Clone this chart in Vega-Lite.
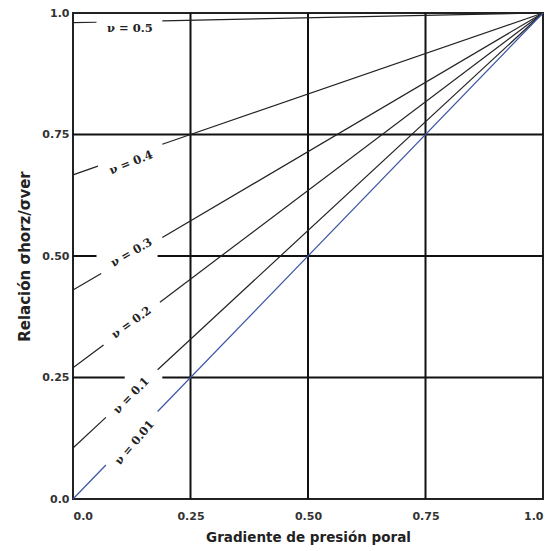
{
  "$schema": "https://vega.github.io/schema/vega-lite/v6.json",
  "width": 470,
  "height": 486,
  "autosize": {"type": "none"},
  "padding": {"left": 73, "top": 13, "right": 13, "bottom": 52},
  "background": "white",
  "config": {
    "view": {"stroke": "#222", "strokeWidth": 2},
    "axis": {
      "labelFont": "DejaVu Sans",
      "labelFontWeight": "bold",
      "labelFontSize": 11,
      "labelColor": "#333",
      "titleFont": "DejaVu Sans",
      "titleFontWeight": "bold",
      "titleFontSize": 13.5,
      "titleColor": "#222",
      "ticks": false,
      "domain": false,
      "grid": false
    },
    "text": {"font": "DejaVu Serif", "fontWeight": "bold", "fontSize": 11.5, "color": "#222"}
  },
  "datasets": {
    "grid": [
      {"x": 0.25, "x2": 0.25, "y": 0, "y2": 1},
      {"x": 0.5, "x2": 0.5, "y": 0, "y2": 1},
      {"x": 0.75, "x2": 0.75, "y": 0, "y2": 1},
      {"x": 0, "x2": 1, "y": 0.75, "y2": 0.75},
      {"x": 0, "x2": 0.05, "y": 0.5, "y2": 0.5},
      {"x": 0.18, "x2": 1, "y": 0.5, "y2": 0.5},
      {"x": 0, "x2": 0.11, "y": 0.25, "y2": 0.25},
      {"x": 0.19, "x2": 1, "y": 0.25, "y2": 0.25}
    ],
    "curves": [
      {"nu": "0.5", "seg": "0.5a", "x": 0, "y": 0.98},
      {"nu": "0.5", "seg": "0.5a", "x": 0.05, "y": 0.981},
      {"nu": "0.5", "seg": "0.5b", "x": 0.19, "y": 0.984},
      {"nu": "0.5", "seg": "0.5b", "x": 1, "y": 1},
      {"nu": "0.4", "seg": "0.4a", "x": 0, "y": 0.667},
      {"nu": "0.4", "seg": "0.4a", "x": 0.053, "y": 0.685},
      {"nu": "0.4", "seg": "0.4b", "x": 0.19, "y": 0.73},
      {"nu": "0.4", "seg": "0.4b", "x": 1, "y": 1},
      {"nu": "0.3", "seg": "0.3a", "x": 0, "y": 0.43},
      {"nu": "0.3", "seg": "0.3a", "x": 0.06, "y": 0.464},
      {"nu": "0.3", "seg": "0.3b", "x": 0.19, "y": 0.538},
      {"nu": "0.3", "seg": "0.3b", "x": 1, "y": 1},
      {"nu": "0.2", "seg": "0.2a", "x": 0, "y": 0.27},
      {"nu": "0.2", "seg": "0.2a", "x": 0.065, "y": 0.317},
      {"nu": "0.2", "seg": "0.2b", "x": 0.185, "y": 0.405},
      {"nu": "0.2", "seg": "0.2b", "x": 1, "y": 1},
      {"nu": "0.1", "seg": "0.1a", "x": 0, "y": 0.105},
      {"nu": "0.1", "seg": "0.1a", "x": 0.07, "y": 0.168},
      {"nu": "0.1", "seg": "0.1b", "x": 0.18, "y": 0.266},
      {"nu": "0.1", "seg": "0.1b", "x": 1, "y": 1},
      {"nu": "0.01", "seg": "0.01a", "x": 0, "y": 0.0},
      {"nu": "0.01", "seg": "0.01a", "x": 0.07, "y": 0.07},
      {"nu": "0.01", "seg": "0.01b", "x": 0.18, "y": 0.18},
      {"nu": "0.01", "seg": "0.01b", "x": 1, "y": 1}
    ],
    "labels": [
      {"nu": "0.5", "label": "ν = 0.5", "x": 0.121, "y": 0.967},
      {"nu": "0.4", "label": "ν = 0.4", "x": 0.124, "y": 0.691},
      {"nu": "0.3", "label": "ν = 0.3", "x": 0.125, "y": 0.506},
      {"nu": "0.2", "label": "ν = 0.2", "x": 0.125, "y": 0.362},
      {"nu": "0.1", "label": "ν = 0.1", "x": 0.125, "y": 0.212},
      {"nu": "0.01", "label": "ν = 0.01", "x": 0.132, "y": 0.115}
    ]
  },
  "layer": [
    {
      "data": {"name": "grid"},
      "mark": {"type": "rule", "color": "#111", "strokeWidth": 2},
      "encoding": {
        "x": {
          "field": "x", "type": "quantitative",
          "scale": {"domain": [0, 1], "nice": false},
          "axis": {
            "values": [0, 0.25, 0.5, 0.75, 1],
            "labelExpr": "datum.value == 0 ? '0.0' : datum.value == 1 ? '1.0' : format(datum.value, '.2f')",
            "labelPadding": 11,
            "title": "Gradiente de presión poral",
            "titlePadding": 9
          }
        },
        "x2": {"field": "x2"},
        "y": {
          "field": "y", "type": "quantitative",
          "scale": {"domain": [0, 1], "nice": false},
          "axis": {
            "values": [0, 0.25, 0.5, 0.75, 1],
            "labelExpr": "datum.value == 0 ? '0.0' : datum.value == 1 ? '1.0' : format(datum.value, '.2f')",
            "labelPadding": 4,
            "title": "Relación σhorz/σver",
            "titleFontSize": 15,
            "titlePadding": 9
          }
        },
        "y2": {"field": "y2"}
      }
    },
    {
      "data": {"name": "curves"},
      "mark": {"type": "line", "strokeWidth": 1.2},
      "encoding": {
        "x": {"field": "x", "type": "quantitative"},
        "y": {"field": "y", "type": "quantitative"},
        "detail": {"field": "seg"},
        "color": {
          "field": "nu", "type": "nominal",
          "scale": {"domain": ["0.5", "0.4", "0.3", "0.2", "0.1", "0.01"], "range": ["#222", "#222", "#222", "#222", "#222", "#3a55a5"]},
          "legend": null
        }
      }
    },
    {
      "data": {"name": "labels"},
      "transform": [{"filter": "datum.nu == '0.5'"}],
      "mark": {"type": "text", "angle": 0},
      "encoding": {"x": {"field": "x", "type": "quantitative"}, "y": {"field": "y", "type": "quantitative"}, "text": {"field": "label"}}
    },
    {
      "data": {"name": "labels"},
      "transform": [{"filter": "datum.nu == '0.4'"}],
      "mark": {"type": "text", "angle": 338},
      "encoding": {"x": {"field": "x", "type": "quantitative"}, "y": {"field": "y", "type": "quantitative"}, "text": {"field": "label"}}
    },
    {
      "data": {"name": "labels"},
      "transform": [{"filter": "datum.nu == '0.3'"}],
      "mark": {"type": "text", "angle": 330},
      "encoding": {"x": {"field": "x", "type": "quantitative"}, "y": {"field": "y", "type": "quantitative"}, "text": {"field": "label"}}
    },
    {
      "data": {"name": "labels"},
      "transform": [{"filter": "datum.nu == '0.2'"}],
      "mark": {"type": "text", "angle": 324},
      "encoding": {"x": {"field": "x", "type": "quantitative"}, "y": {"field": "y", "type": "quantitative"}, "text": {"field": "label"}}
    },
    {
      "data": {"name": "labels"},
      "transform": [{"filter": "datum.nu == '0.1'"}],
      "mark": {"type": "text", "angle": 314},
      "encoding": {"x": {"field": "x", "type": "quantitative"}, "y": {"field": "y", "type": "quantitative"}, "text": {"field": "label"}}
    },
    {
      "data": {"name": "labels"},
      "transform": [{"filter": "datum.nu == '0.01'"}],
      "mark": {"type": "text", "angle": 310},
      "encoding": {"x": {"field": "x", "type": "quantitative"}, "y": {"field": "y", "type": "quantitative"}, "text": {"field": "label"}}
    }
  ]
}
